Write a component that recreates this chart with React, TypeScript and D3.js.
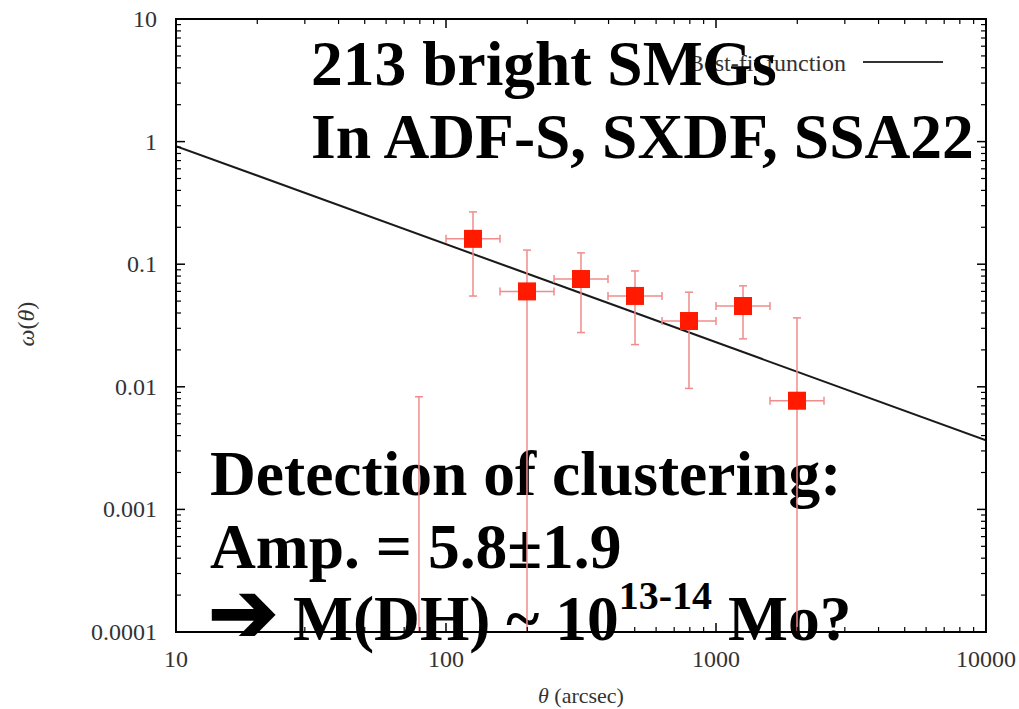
import React from "react";
import * as d3 from "d3";

// Angular correlation function of bright SMGs, binned in log(theta)
const thetaCenter = [79.4, 125.9, 199.5, 316.2, 501.2, 794.3, 1258.9, 1995.3];
const thetaLow = [63.1, 100, 158.5, 251.2, 398.1, 631.0, 1000, 1584.9];
const thetaHigh = [100, 158.5, 251.2, 398.1, 631.0, 1000, 1584.9, 2511.9];
const omega = [-0.006, 0.161, 0.06, 0.0757, 0.0551, 0.0344, 0.0456, 0.0077];
const omegaErr = [0.0143, 0.106, 0.0704, 0.048, 0.033, 0.0247, 0.021, 0.0288];

// Power-law best fit: w(theta) = A * theta^(-delta)
const fitAmplitude = 5.8;
const fitIndex = 0.8;

const xTicks = [10, 100, 1000, 10000];
const xTickLabels = ["10", "100", "1000", "10000"];
const yTicks = [0.0001, 0.001, 0.01, 0.1, 1, 10];
const yTickLabels = ["0.0001", "0.001", "0.01", "0.1", "1", "10"];

const W = 1019;
const H = 709;
const left = 176;
const right = 986;
const top = 19;
const bottom = 632;

const serif = "'Liberation Serif', 'Times New Roman', serif";

export default function App() {
  const x = d3.scaleLog().domain([10, 10000]).range([left, right]);
  const y = d3.scaleLog().domain([0.0001, 10]).range([bottom, top]).clamp(true);

  const minorX: number[] = [];
  for (let d = 10; d < 10000; d *= 10) for (let k = 2; k <= 9; k++) minorX.push(d * k);
  const minorY: number[] = [];
  for (let d = 0.0001; d < 9; d *= 10) for (let k = 2; k <= 9; k++) minorY.push(d * k);

  const fitLine = d3
    .line<number>()
    .x((t) => x(t))
    .y((t) => y(fitAmplitude * Math.pow(t, -fitIndex)));

  const errColor = "#f08c8c";
  const capHalf = 4;
  const sq = 18;

  const bigText = { fontFamily: serif, fontWeight: 700, fontSize: 63.5, fill: "#000" } as const;

  return (
    <div style={{ position: "absolute", left: 0, top: 0 }}>
      <svg width={W} height={H} style={{ display: "block", background: "#fff" }}>
        <defs>
          <clipPath id="plotClip">
            <rect x={left} y={top} width={right - left} height={bottom - top} />
          </clipPath>
        </defs>

        {/* legend */}
        <text x={846} y={71} textAnchor="end" fontFamily={serif} fontSize={24} fill="#333">
          Best-fit function
        </text>
        <line x1={863} x2={943} y1={62} y2={62} stroke="#333" strokeWidth={2} />

        {/* annotation text */}
        <text x={311} y={85} {...bigText}>213 bright SMGs</text>
        <text x={311} y={158} {...bigText}>In ADF-S, SXDF, SSA22</text>
        <text x={210} y={495} {...bigText}>Detection of clustering:</text>
        <text x={210} y={568} {...bigText}>Amp. = 5.8±1.9</text>
        <text x={208} y={641} {...bigText}>
          <tspan fontFamily="'DejaVu Sans', sans-serif" fontSize={84} stroke="#000" strokeWidth={2}>➔</tspan>
          <tspan x={293} y={640}>M(DH) ~ 10</tspan>
          <tspan dy={-31} fontSize={40}>13-14</tspan>
          <tspan dy={31}> Mo?</tspan>
        </text>

        {/* fit line */}
        <g clipPath="url(#plotClip)">
          <path d={fitLine([10, 10000]) || ""} fill="none" stroke="#1a1a1a" strokeWidth={2} />
        </g>

        {/* error bars and points */}
        <g clipPath="url(#plotClip)">
          {thetaCenter.map((t, i) => {
            const cx = x(t);
            const hi = omega[i] + omegaErr[i];
            const lo = omega[i] - omegaErr[i];
            const yHi = y(hi);
            const yLo = lo > 0 ? y(lo) : bottom + 5;
            const visible = omega[i] > 0;
            const cy = visible ? y(omega[i]) : 0;
            return (
              <g key={i}>
                <line x1={cx} x2={cx} y1={yHi} y2={yLo} stroke={errColor} strokeWidth={1.5} />
                <line x1={cx - capHalf} x2={cx + capHalf} y1={yHi} y2={yHi} stroke={errColor} strokeWidth={1.5} />
                {lo > 0 && (
                  <line x1={cx - capHalf} x2={cx + capHalf} y1={yLo} y2={yLo} stroke={errColor} strokeWidth={1.5} />
                )}
                {visible && (
                  <>
                    <line x1={x(thetaLow[i])} x2={x(thetaHigh[i])} y1={cy} y2={cy} stroke={errColor} strokeWidth={1.5} />
                    <line x1={x(thetaLow[i])} x2={x(thetaLow[i])} y1={cy - capHalf} y2={cy + capHalf} stroke={errColor} strokeWidth={1.5} />
                    <line x1={x(thetaHigh[i])} x2={x(thetaHigh[i])} y1={cy - capHalf} y2={cy + capHalf} stroke={errColor} strokeWidth={1.5} />
                    <rect x={cx - sq / 2} y={cy - sq / 2} width={sq} height={sq} fill="#ff1a00" />
                  </>
                )}
              </g>
            );
          })}
        </g>

        {/* frame and ticks */}
        <rect x={left} y={top} width={right - left} height={bottom - top} fill="none" stroke="#000" strokeWidth={2} />
        {xTicks.map((t) => (
          <g key={"xt" + t}>
            <line x1={x(t)} x2={x(t)} y1={bottom} y2={bottom - 9} stroke="#000" strokeWidth={1.5} />
            <line x1={x(t)} x2={x(t)} y1={top} y2={top + 9} stroke="#000" strokeWidth={1.5} />
          </g>
        ))}
        {minorX.map((t) => (
          <g key={"xm" + t}>
            <line x1={x(t)} x2={x(t)} y1={bottom} y2={bottom - 5} stroke="#000" strokeWidth={1.2} />
            <line x1={x(t)} x2={x(t)} y1={top} y2={top + 5} stroke="#000" strokeWidth={1.2} />
          </g>
        ))}
        {yTicks.map((v) => (
          <g key={"yt" + v}>
            <line x1={left} x2={left + 9} y1={y(v)} y2={y(v)} stroke="#000" strokeWidth={1.5} />
            <line x1={right} x2={right - 9} y1={y(v)} y2={y(v)} stroke="#000" strokeWidth={1.5} />
          </g>
        ))}
        {minorY.map((v) => (
          <g key={"ym" + v}>
            <line x1={left} x2={left + 5} y1={y(v)} y2={y(v)} stroke="#000" strokeWidth={1.2} />
            <line x1={right} x2={right - 5} y1={y(v)} y2={y(v)} stroke="#000" strokeWidth={1.2} />
          </g>
        ))}

        {/* tick labels */}
        {xTicks.map((t, i) => (
          <text key={"xl" + t} x={x(t)} y={667} textAnchor="middle" fontFamily={serif} fontSize={24} fill="#333">
            {xTickLabels[i]}
          </text>
        ))}
        {yTicks.map((v, i) => (
          <text key={"yl" + v} x={157} y={y(v) + 8} textAnchor="end" fontFamily={serif} fontSize={24} fill="#333">
            {yTickLabels[i]}
          </text>
        ))}

        {/* axis titles */}
        <text x={581} y={703} textAnchor="middle" fontFamily={serif} fontSize={22} fill="#333">
          <tspan fontStyle="italic">θ</tspan> (arcsec)
        </text>
        <text
          transform="translate(34,324) rotate(-90)"
          textAnchor="middle"
          fontFamily={serif}
          fontSize={24}
          fill="#333"
        >
          <tspan fontStyle="italic">ω</tspan>(<tspan fontStyle="italic">θ</tspan>)
        </text>
      </svg>
    </div>
  );
}
